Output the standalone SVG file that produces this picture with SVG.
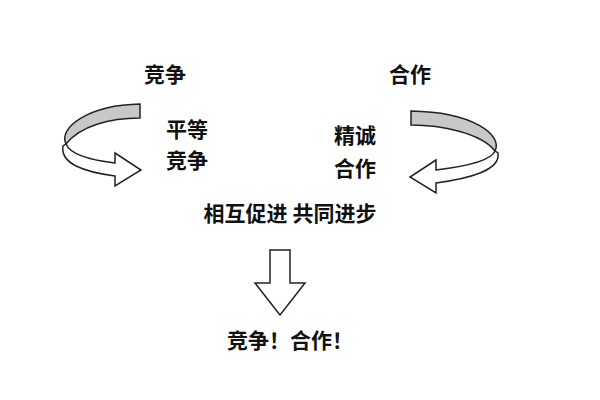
<svg xmlns="http://www.w3.org/2000/svg" width="600" height="400" viewBox="0 0 600 400">
<style>
text{font-family:"Noto Sans CJK SC",sans-serif;font-weight:bold;font-size:21px;fill:#111;text-anchor:middle}
.g{fill:#c8c8c8;stroke:#222;stroke-width:1.5}
.w{fill:#fff;stroke:#222;stroke-width:1.5}
</style>
<rect width="600" height="400" fill="#fff"/>
<g id="connectors">
<g id="left-arrow">
<path class="g" d="M140,104 L140,118 C110,118 80,126 66,144 C58,128 88,105 140,104 Z"/>
<path class="w" d="M66,144 C70,154 90,160 115,163 L115,153 L141,170 L115,186 L115,176 C85,172 60,164 63,146 Z"/>
</g>
<g id="right-arrow" transform="translate(551,7) scale(-1,1)">
<path class="g" d="M140,104 L140,118 C110,118 70,126 56,144 C48,128 78,105 140,104 Z"/>
<path class="w" d="M56,144 C60,154 90,160 115,163 L115,153 L141,170 L115,186 L115,176 C85,172 50,164 53,146 Z"/>
</g>
<path id="down-arrow" class="w" d="M270,250 L290,250 L290,283 L305,283 L280,315 L255,283 L270,283 Z"/>
</g>
<g id="n1"><text x="165" y="82">竞争</text></g>
<g id="n2"><text x="410" y="82">合作</text></g>
<g id="n3"><text x="187" y="137">平等</text><text x="187" y="168">竞争</text></g>
<g id="n4"><text x="355" y="143">精诚</text><text x="355" y="176">合作</text></g>
<g id="n5"><text x="290" y="221">相互促进  共同进步</text></g>
<g id="n6"><text x="290" y="348">竞争！合作！</text></g>
</svg>
